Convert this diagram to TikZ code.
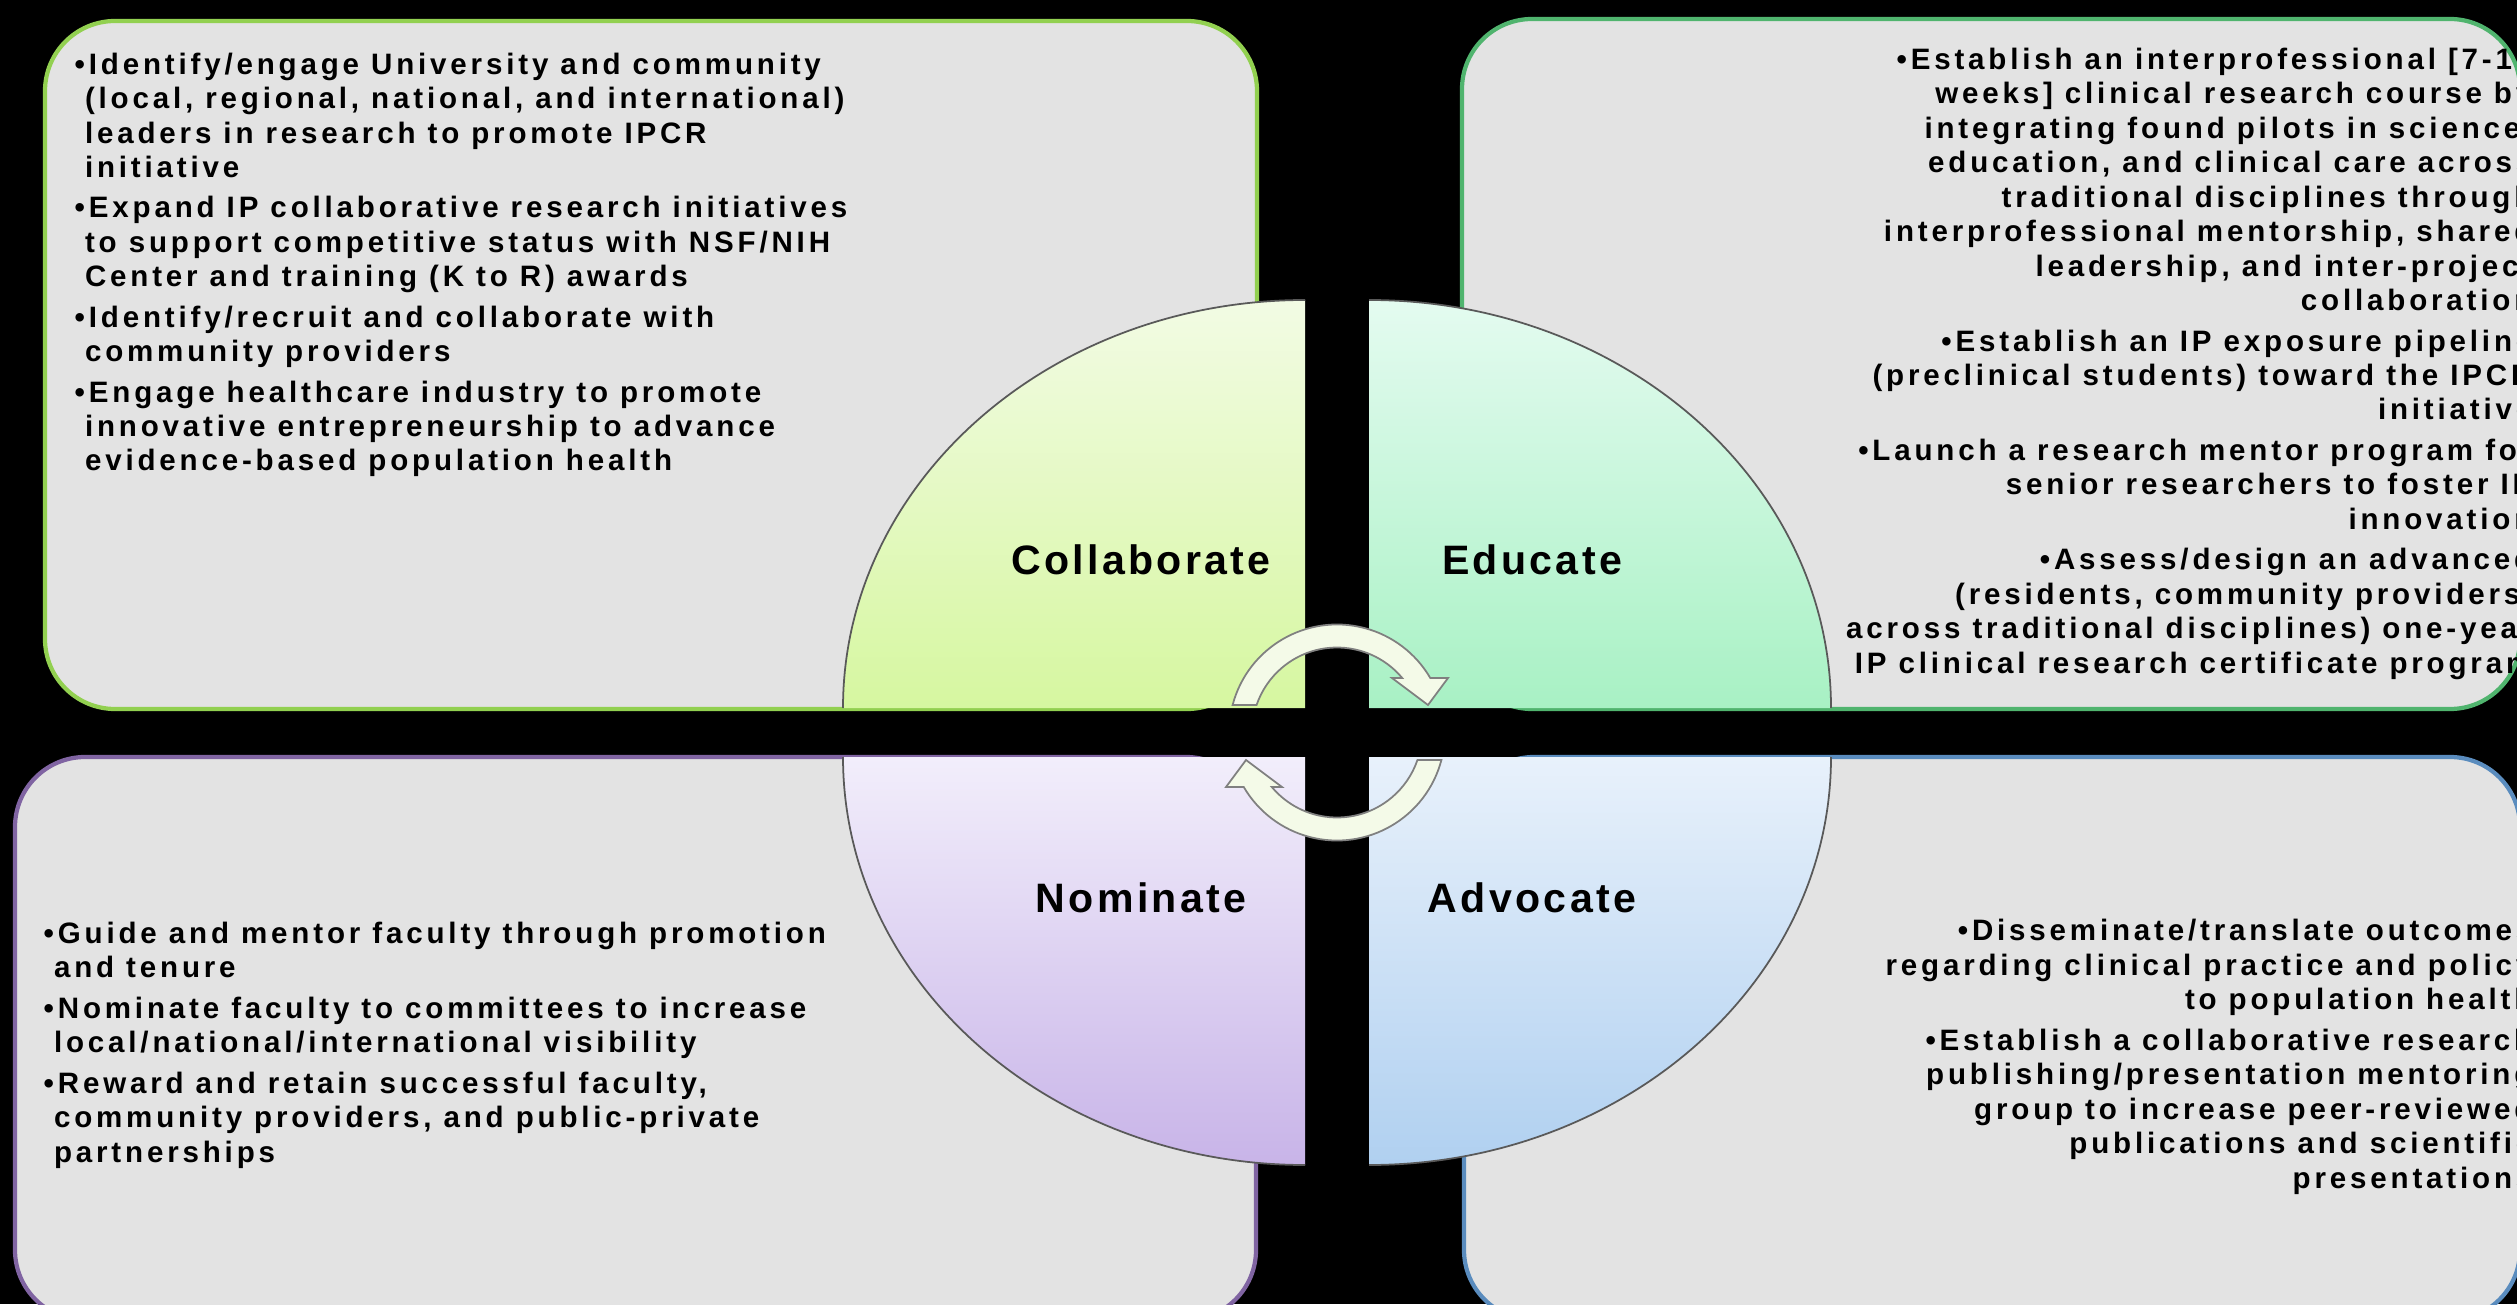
\documentclass[tikz,border=0pt]{standalone}
\usepackage{fontspec}
\setmainfont{Liberation Sans}
\newfontfamily\itemfont[LetterSpace=13]{Liberation Sans}
\newfontfamily\quadfont[LetterSpace=8]{Liberation Sans}

\definecolor{panelgray}{RGB}{227,227,227}
\definecolor{collabedge}{RGB}{146,208,80}
\definecolor{eduedge}{RGB}{80,180,110}
\definecolor{nomedge}{RGB}{128,100,162}
\definecolor{advedge}{RGB}{90,140,190}
\definecolor{collabtop}{RGB}{242,251,228}
\definecolor{collabbot}{RGB}{214,247,160}
\definecolor{edutop}{RGB}{228,251,240}
\definecolor{edubot}{RGB}{168,241,196}
\definecolor{nomtop}{RGB}{242,238,251}
\definecolor{nombot}{RGB}{200,180,232}
\definecolor{advtop}{RGB}{232,241,251}
\definecolor{advbot}{RGB}{176,208,240}
\definecolor{turnfill}{RGB}{244,250,232}

\begin{document}
\begin{tikzpicture}
  \tikzstyle{panel}=[fill=panelgray, rounded corners=0.7cm, line width=1.2pt]
  \tikzstyle{petal}=[draw=black!65, line width=0.5pt]
  \tikzstyle{items}=[inner sep=0pt, font=\itemfont\bfseries\fontsize{8.4}{9.8}\selectfont]
  \tikzstyle{quadlabel}=[inner sep=0pt, anchor=base, font=\quadfont\bfseries\fontsize{11.7}{14}\selectfont]
  \tikzstyle{turn}=[fill=turnfill, draw=black!50, line width=0.5pt]

  \useasboundingbox (0,0) rectangle (25.17,13.04);
  \clip (0,0) rectangle (25.17,13.04);
  \fill[black] (0,0) rectangle (25.17,13.04);

  % the four panels
  \draw[panel, draw=collabedge] (0.45,5.95) rectangle (12.57,12.83);
  \draw[panel, draw=eduedge] (14.62,5.95) rectangle (25.20,12.85);
  \draw[panel, draw=nomedge] (0.15,-0.16) rectangle (12.56,5.47);
  \draw[panel, draw=advedge] (14.64,-0.16) rectangle (25.20,5.47);

  % quarter ellipses
  \foreach \cx/\cy/\sa/\ea/\top/\bot in {13.05/5.96/180/90/collabtop/collabbot,
      13.69/5.96/90/0/edutop/edubot, 13.05/5.47/180/270/nomtop/nombot,
      13.69/5.47/360/270/advtop/advbot}
  {
    \path[top color=\top, bottom color=\bot] (\cx,\cy) -- ++(\sa:4.62 and 4.08)
      arc[start angle=\sa, end angle=\ea, x radius=4.62, y radius=4.08] -- cycle;
    \draw[petal] (\cx,\cy) ++(\sa:4.62 and 4.08)
      arc[start angle=\sa, end angle=\ea, x radius=4.62, y radius=4.08];
  }

  \node[quadlabel] (collab) at (11.41,7.29) {Collaborate};
  \node[quadlabel] (educate) at (15.32,7.29) {Educate};
  \node[quadlabel] (nominate) at (11.41,3.92) {Nominate};
  \node[quadlabel] (advocate) at (15.32,3.92) {Advocate};

  % circular arrows
  \draw[turn] (12.326,5.99) arc[start angle=165.25, end angle=30.3, radius=1.08]
    -- (14.48,6.26) -- (14.28,5.99) -- (13.92,6.26) -- (14.022,6.26)
    arc[start angle=39.9, end angle=161.1, radius=0.85] -- cycle;
  \begin{scope}[rotate around={180:(13.37,5.715)}]
    \draw[turn] (12.326,5.99) arc[start angle=165.25, end angle=30.3, radius=1.08]
      -- (14.48,6.26) -- (14.28,5.99) -- (13.92,6.26) -- (14.022,6.26)
      arc[start angle=39.9, end angle=161.1, radius=0.85] -- cycle;
  \end{scope}

  % panel texts (base = baseline of the last line)
  \node[items, anchor=base west, align=left] (collab-items) at (0.74,8.33)
    {•Identify/engage University and community\\
     \hphantom{•}(local, regional, national, and international)\\
     \hphantom{•}leaders in research to promote IPCR\\
     \hphantom{•}initiative\\[1.7pt]
     •Expand IP collaborative research initiatives\\
     \hphantom{•}to support competitive status with NSF/NIH\\
     \hphantom{•}Center and training (K to R) awards\\[1.7pt]
     •Identify/recruit and collaborate with\\
     \hphantom{•}community providers\\[1.7pt]
     •Engage healthcare industry to promote\\
     \hphantom{•}innovative entrepreneurship to advance\\
     \hphantom{•}evidence-based population health};

  \node[items, anchor=base east, align=right] (educate-items) at (25.33,6.31)
    {•Establish an interprofessional [7-10\\
     weeks] clinical research course by\\
     integrating found pilots in science,\\
     education, and clinical care across\\
     traditional disciplines through\\
     interprofessional mentorship, shared\\
     leadership, and inter-project\\
     collaboration\\[1.7pt]
     •Establish an IP exposure pipeline\\
     (preclinical students) toward the IPCR\\
     initiative\\[1.7pt]
     •Launch a research mentor program for\\
     senior researchers to foster IP\\
     innovation\\[1.7pt]
     •Assess/design an advanced\\
     (residents, community providers,\\
     across traditional disciplines) one-year\\
     IP clinical research certificate program};

  \node[items, anchor=base west, align=left] (nominate-items) at (0.43,1.42)
    {•Guide and mentor faculty through promotion\\
     \hphantom{•}and tenure\\[1.7pt]
     •Nominate faculty to committees to increase\\
     \hphantom{•}local/national/international visibility\\[1.7pt]
     •Reward and retain successful faculty,\\
     \hphantom{•}community providers, and public-private\\
     \hphantom{•}partnerships};

  \node[items, anchor=base east, align=right] (advocate-items) at (25.33,1.16)
    {•Disseminate/translate outcomes\\
     regarding clinical practice and policy\\
     to population health\\[1.7pt]
     •Establish a collaborative research\\
     publishing/presentation mentoring\\
     group to increase peer-reviewed\\
     publications and scientific\\
     presentations};
\end{tikzpicture}
\end{document}
